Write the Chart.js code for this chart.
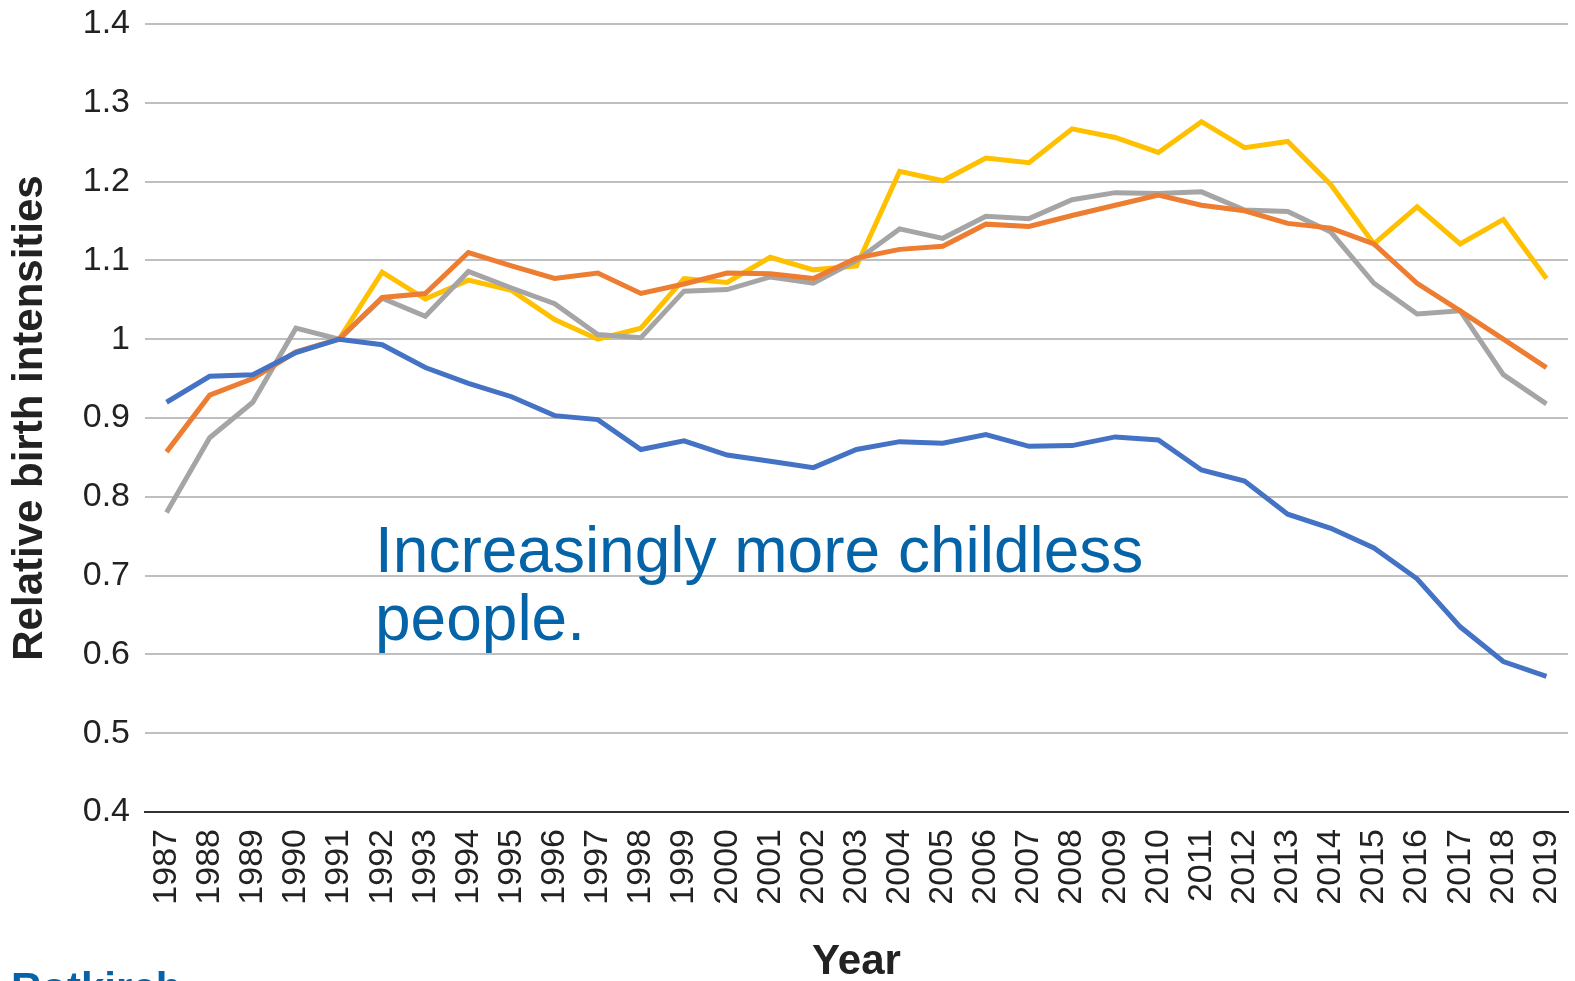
<!DOCTYPE html>
<html>
<head>
    <title>Relative birth intensities</title>
    <style>
        body {
            margin: 0;
            padding: 0;
            background: #fff;
            overflow: hidden;
        }

        #wrap {
            width: 1575px;
            height: 981px;
        }
    </style>
</head>
<body>
    <div id="wrap">
        <canvas id="chart" width="1575" height="981"></canvas>
    </div>

    <script src="https://cdn.jsdelivr.net/npm/chart.js"></script>
    <script>
        // years on the x axis
        var years = [];
        for (var y = 1987; y <= 2019; y++) years.push(String(y));

        // values (1991 = 1)
        var blueSeries = [0.920, 0.953, 0.955, 0.983, 1.000, 0.993, 0.964, 0.944, 0.927, 0.903, 0.898,
            0.860, 0.871, 0.853, 0.845, 0.837, 0.860, 0.870, 0.868, 0.879, 0.864, 0.865,
            0.876, 0.872, 0.834, 0.820, 0.778, 0.760, 0.735, 0.696, 0.635, 0.591, 0.572];
        var orangeSeries = [0.857, 0.929, 0.950, 0.984, 1.000, 1.053, 1.058, 1.110, 1.093, 1.077, 1.084,
            1.058, 1.070, 1.084, 1.083, 1.077, 1.103, 1.114, 1.118, 1.146, 1.143, 1.157,
            1.170, 1.183, 1.170, 1.163, 1.147, 1.141, 1.121, 1.071, 1.036, 1.000, 0.964];
        var graySeries = [0.780, 0.875, 0.920, 1.014, 1.000, 1.052, 1.029, 1.086, 1.065, 1.045, 1.006,
            1.002, 1.061, 1.063, 1.079, 1.071, 1.100, 1.140, 1.128, 1.156, 1.153, 1.177,
            1.186, 1.185, 1.187, 1.164, 1.162, 1.136, 1.071, 1.032, 1.036, 0.955, 0.918];
        var yellowSeries = [null, null, null, null, 1.000, 1.085, 1.051, 1.075, 1.062, 1.025, 1.000,
            1.014, 1.077, 1.072, 1.104, 1.088, 1.093, 1.213, 1.201, 1.230, 1.224, 1.267,
            1.256, 1.237, 1.276, 1.243, 1.251, 1.196, 1.121, 1.168, 1.121, 1.152, 1.077];

        var yTicks = [0.4, 0.5, 0.6, 0.7, 0.8, 0.9, 1, 1.1, 1.2, 1.3, 1.4];

        var noteLines = ['Increasingly more childless', 'people.'];

        var FONT = '"Liberation Sans", Arial, sans-serif';

        // text drawn over the plot: the note and the cut-off source line
        var notePlugin = {
            id: 'note',
            afterDraw: function (chart) {
                var ctx = chart.ctx;
                var area = chart.chartArea;
                ctx.save();
                ctx.fillStyle = '#0563a8';
                ctx.font = '64px ' + FONT;
                ctx.textBaseline = 'alphabetic';
                ctx.textAlign = 'left';
                ctx.fillText(noteLines[0], area.left + 230, area.top + 548);
                ctx.fillText(noteLines[1], area.left + 230, area.top + 616);

                ctx.font = 'bold 42px ' + FONT;
                ctx.fillText('Rotkirch', 11, 1002);
                ctx.restore();
            }
        };

        function line(label, data, color) {
            return {
                label: label,
                data: data,
                borderColor: color,
                backgroundColor: color,
                borderWidth: 5,
                pointRadius: 0,
                tension: 0,
                spanGaps: false
            };
        }

        var ctx = document.getElementById('chart').getContext('2d');
        new Chart(ctx, {
            type: 'line',
            data: {
                labels: years,
                datasets: [
                    line('blue', blueSeries, '#4472c4'),
                    line('orange', orangeSeries, '#ed7d31'),
                    line('gray', graySeries, '#a5a5a5'),
                    line('yellow', yellowSeries, '#ffc000')
                ]
            },
            options: {
                responsive: false,
                animation: false,
                layout: {
                    padding: { top: 24, right: 7, left: 0, bottom: 0 }
                },
                plugins: {
                    legend: { display: false },
                    tooltip: { enabled: false }
                },
                scales: {
                    x: {
                        offset: true,
                        grid: { display: false, drawTicks: false },
                        border: { display: true, color: '#333', width: 2 },
                        ticks: {
                            autoSkip: false,
                            maxRotation: 90,
                            minRotation: 90,
                            padding: 17,
                            color: '#222',
                            font: { family: FONT, size: 34 }
                        },
                        title: {
                            display: true,
                            text: 'Year',
                            color: '#222',
                            padding: { top: 10, bottom: -7 },
                            font: { family: FONT, size: 42, weight: 'bold' }
                        },
                        afterFit: function (scale) {
                            scale.height = 169;
                            scale.paddingLeft = 0;
                            scale.paddingRight = 0;
                        }
                    },
                    y: {
                        min: 0.4,
                        max: 1.4,
                        afterBuildTicks: function (scale) {
                            scale.ticks = yTicks.map(function (v) { return { value: v }; });
                        },
                        grid: { color: '#bfbfbf', lineWidth: 2, drawTicks: false },
                        border: { display: false },
                        ticks: {
                            padding: 15,
                            color: '#222',
                            font: { family: FONT, size: 34 },
                            callback: function (v) { return String(Math.round(v * 10) / 10); }
                        },
                        title: {
                            display: true,
                            text: 'Relative birth intensities',
                            color: '#222',
                            padding: { top: 5, bottom: 0 },
                            font: { family: FONT, size: 42, weight: 'bold' }
                        },
                        afterFit: function (scale) {
                            scale.width = 145;
                            scale.paddingTop = 0;
                            scale.paddingBottom = 0;
                        }
                    }
                }
            },
            plugins: [notePlugin]
        });
    </script>
</body>
</html>
